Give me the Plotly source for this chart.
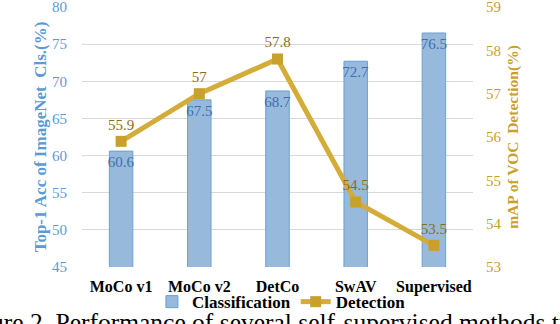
import plotly.graph_objects as go

methods = ["MoCo v1", "MoCo v2", "DetCo", "SwAV", "Supervised"]
classification = [60.6, 67.5, 68.7, 72.7, 76.5]
detection = [55.9, 57.0, 57.8, 54.5, 53.5]

cls_ticks = [45, 50, 55, 60, 65, 70, 75, 80]
det_ticks = [53, 54, 55, 56, 57, 58, 59]

BLUE = "#5b9bd5"
GOLD = "#d4ac3a"
SERIF = "Liberation Serif"

fig = go.Figure()
fig.add_trace(
    go.Bar(
        x=methods,
        y=classification,
        name="Classification",
        width=0.3,
        marker={"color": "#97b9dc", "line": {"color": "#6b9fd4", "width": 1}},
        text=[f"{v:g}" for v in classification],
        textposition="inside",
        insidetextanchor="end",
        textangle=0,
        constraintext="none",
        textfont={"family": SERIF, "size": 15, "color": "#3f6fb0"},
        cliponaxis=False,
    )
)
fig.add_trace(
    go.Scatter(
        x=methods,
        y=detection,
        name="Detection",
        yaxis="y2",
        mode="lines+markers+text",
        line={"color": GOLD, "width": 5},
        marker={"symbol": "square", "size": 11, "color": "#c9a02a"},
        text=[f"{v:g}" for v in detection],
        textposition="top center",
        textfont={"family": SERIF, "size": 15, "color": "#8a6d1c"},
        cliponaxis=False,
    )
)

fig.update_layout(
    width=560,
    height=324,
    margin={"l": 82, "r": 87, "t": 7, "b": 57, "autoexpand": False},
    paper_bgcolor="#ffffff",
    plot_bgcolor="#ffffff",
    font={"family": SERIF, "size": 14, "color": "#000000"},
    showlegend=True,
    legend={
        "orientation": "h",
        "x": 0.51,
        "xanchor": "center",
        "y": -0.135,
        "yanchor": "middle",
        "bgcolor": "rgba(0,0,0,0)",
        "font": {"family": SERIF, "size": 17, "color": "#000000", "weight": "bold"},
        "itemwidth": 30,
        "tracegroupgap": 0,
    },
    xaxis={
        "tickfont": {"family": SERIF, "size": 16, "color": "#000000", "weight": "bold"},
        "showline": False,
        "ticks": "",
        "ticklabelstandoff": 8,
    },
    yaxis={
        "range": [45, 80],
        "tickvals": cls_ticks,
        "tickfont": {"family": SERIF, "size": 15, "color": BLUE},
        "ticklabeloverflow": "allow",
        "gridcolor": "#d9d9d9",
        "zeroline": False,
        "showline": False,
        "ticklabelstandoff": 14,
        "title": {
            "text": "Top-1 Acc of ImageNet  Cls.(%)",
            "font": {"family": SERIF, "size": 17, "color": BLUE, "weight": "bold"},
            "standoff": 1,
        },
    },
    yaxis2={
        "range": [53, 59],
        "tickvals": det_ticks,
        "overlaying": "y",
        "side": "right",
        "showgrid": False,
        "zeroline": False,
        "ticklabeloverflow": "allow",
        "tickfont": {"family": SERIF, "size": 15, "color": "#c9a02a"},
        "ticklabelstandoff": 12,
        "title": {
            "text": "mAP of VOC  Detection(%)",
            "font": {"family": SERIF, "size": 15.5, "color": "#c9a02a", "weight": "bold"},
            "standoff": 6,
        },
    },
)

fig.add_annotation(
    text="Figure 2. Performance of several self-supervised methods transferred",
    xref="paper",
    yref="paper",
    x=-0.325,
    y=-0.15,
    xanchor="left",
    yanchor="top",
    showarrow=False,
    font={"family": SERIF, "size": 25.5, "color": "#000000"},
)

# the page body has a default 8px margin; drop it so the figure fills the window
fig.write_html(
    "out.html",
    config={"displayModeBar": False},
    post_script="document.body.style.margin = '0';",
)
